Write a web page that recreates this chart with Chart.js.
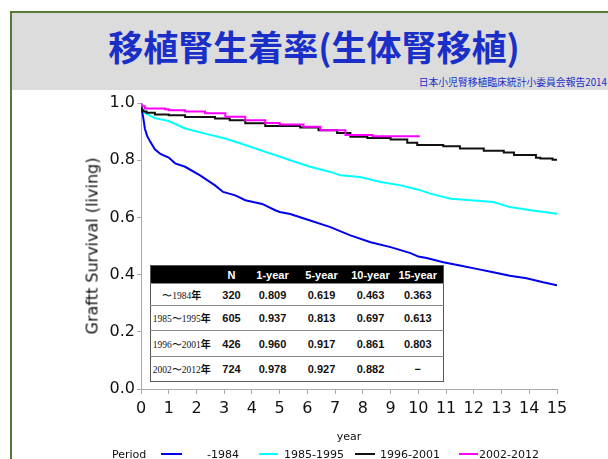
<!DOCTYPE html>
<html><head><meta charset="utf-8">
<script src="https://cdn.jsdelivr.net/npm/chart.js@4.4.1/dist/chart.umd.min.js"></script>
<style>
html,body{margin:0;padding:0;width:608px;height:459px;overflow:hidden;background:#fff;}
#frame{position:absolute;left:10px;top:11px;width:620px;height:470px;border-left:2px solid #587a36;border-top:2px solid #587a36;box-sizing:border-box;}
#head{position:absolute;left:12px;top:13px;width:596px;height:77px;background:#dcdcdc;}
#title{position:absolute;left:4px;width:596px;top:13px;text-align:center;font-family:"Noto Sans CJK JP";font-weight:bold;font-size:35px;line-height:40px;color:#1a2fc8;white-space:nowrap;}
#sub{position:absolute;right:1px;top:63px;font-family:"Noto Sans CJK JP";font-size:9.8px;line-height:12px;color:#1a2fc8;white-space:nowrap;}
#c{position:absolute;left:0;top:0;z-index:1;}
#ytitle{position:absolute;left:92px;top:246px;transform:translate(-50%,-50%) rotate(-90deg);font-family:"DejaVu Sans";font-size:16px;color:#111;white-space:nowrap;z-index:2;}
#xtitle{position:absolute;left:349px;top:436px;transform:translate(-50%,-50%);font-family:"DejaVu Sans";font-size:11px;color:#111;white-space:nowrap;z-index:2;}
.lg{position:absolute;top:448px;font-family:"DejaVu Sans";font-size:11px;line-height:13px;color:#111;white-space:nowrap;z-index:2;}
.ls{position:absolute;top:453px;height:2px;z-index:2;}
#tbl{position:absolute;left:150px;top:265px;width:293px;border-collapse:collapse;background:#fff;z-index:3;border:1px solid #555;table-layout:fixed;}
#tbl td,#tbl th{padding:0;text-align:center;font-family:"Liberation Sans";font-weight:bold;font-size:11px;color:#111;}
#tbl th{background:#000;color:#fff;height:17px;}
#tbl tr.r td{border-top:1px solid #888;}
.yl{font-family:"Liberation Serif" !important;font-weight:normal !important;font-size:9.5px !important;}
.nen{font-family:"Noto Sans CJK JP";font-weight:bold;font-size:10px;}
</style></head><body>
<div id="frame"></div>
<div id="head">
  <div id="title">移植腎生着率(生体腎移植)</div>
  <div id="sub">日本小児腎移植臨床統計小委員会報告2014</div>
</div>
<canvas id="c" width="608" height="459"></canvas>
<div id="ytitle">Graftt Survival (living)</div>
<div id="xtitle">year</div>
<div class="lg" style="left:112px">Period</div>
<div class="ls" style="left:161px;width:21px;background:#0000ee"></div>
<div class="lg" style="left:207px">-1984</div>
<div class="ls" style="left:259px;width:19px;background:#00ffff"></div>
<div class="lg" style="left:284px">1985-1995</div>
<div class="ls" style="left:355px;width:20px;background:#111"></div>
<div class="lg" style="left:380px">1996-2001</div>
<div class="ls" style="left:459px;width:19px;background:#ff00ff"></div>
<div class="lg" style="left:479px">2002-2012</div>

<table id="tbl">
<colgroup><col style="width:62px"><col style="width:38px"><col style="width:44px"><col style="width:54px"><col style="width:44px"><col style="width:51px"></colgroup>
<tbody id="tb"></tbody>
</table>

<script>
// ---- data ----
const periods = ['-1984', '1985-1995', '1996-2001', '2002-2012'];
const tableLabels = ['〜1984', '1985〜1995', '1996〜2001', '2002〜2012'];
const tableHeads = ['', 'N', '1-year', '5-year', '10-year', '15-year'];
const tableN = ['320', '605', '426', '724'];
const table1y = ['0.809', '0.937', '0.960', '0.978'];
const table5y = ['0.619', '0.813', '0.917', '0.927'];
const table10y = ['0.463', '0.697', '0.861', '0.882'];
const table15y = ['0.363', '0.613', '0.803', '−'];

const xTicks = [0,1,2,3,4,5,6,7,8,9,10,11,12,13,14,15];
const yTicks = [0.0,0.2,0.4,0.6,0.8,1.0];

const tA = [0, 0.04, 0.08, 0.14, 0.22, 0.33, 0.5, 0.7, 1.0, 1.23, 1.59, 2.13, 2.67, 2.96, 3.4, 3.76, 4.37, 4.84, 5.0, 5.38, 6.1, 6.83, 7.55, 8.28, 9.0, 9.72, 10.0, 10.3, 10.9, 11.5, 12.1, 12.7, 13.3, 13.9, 14.5, 15.0];
const sA = [1.0, 0.97, 0.95, 0.91, 0.885, 0.865, 0.838, 0.822, 0.809, 0.789, 0.777, 0.747, 0.712, 0.689, 0.677, 0.66, 0.647, 0.625, 0.619, 0.612, 0.589, 0.566, 0.537, 0.513, 0.496, 0.475, 0.463, 0.458, 0.443, 0.432, 0.42, 0.408, 0.396, 0.387, 0.373, 0.363];

const tB = [0, 0.05, 0.14, 0.5, 1.0, 1.59, 2.31, 3.04, 3.76, 4.48, 5.0, 5.38, 6.1, 6.83, 7.19, 7.9, 8.64, 9.36, 10.0, 10.44, 11.17, 11.9, 12.7, 13.3, 14.06, 15.0];
const sB = [1.0, 0.98, 0.965, 0.947, 0.937, 0.911, 0.893, 0.876, 0.853, 0.829, 0.813, 0.80, 0.777, 0.759, 0.747, 0.741, 0.724, 0.712, 0.697, 0.683, 0.665, 0.66, 0.654, 0.636, 0.625, 0.613];

const tC = [0, 0.03, 0.08, 0.2, 0.5, 1.0, 1.59, 2.67, 3.2, 3.76, 4.48, 5.0, 5.74, 6.4, 7.07, 7.55, 8.16, 9.0, 9.6, 9.96, 10.9, 11.5, 12.36, 13.08, 13.45, 14.24, 14.4, 14.84, 15.0];
const sC = [1.0, 0.985, 0.975, 0.97, 0.966, 0.96, 0.957, 0.951, 0.946, 0.94, 0.929, 0.92, 0.92, 0.914, 0.905, 0.895, 0.882, 0.878, 0.872, 0.861, 0.853, 0.849, 0.841, 0.833, 0.827, 0.818, 0.809, 0.806, 0.802];

const tD = [0, 0.03, 0.14, 0.87, 1.0, 1.59, 2.31, 3.04, 3.76, 4.48, 5.0, 5.86, 6.47, 7.37, 8.35, 10.05];
const sD = [1.0, 0.995, 0.989, 0.981, 0.978, 0.975, 0.97, 0.964, 0.952, 0.94, 0.93, 0.925, 0.917, 0.905, 0.888, 0.884];

// ---- table ----
const tb = document.getElementById('tb');
let html = '<tr>' + tableHeads.map(h => '<th>' + h + '</th>').join('') + '</tr>';
const rowH = [22, 25, 26, 25];
for (let i = 0; i < tableLabels.length; i++) {
  html += '<tr class="r" style="height:' + rowH[i] + 'px"><td><span class="yl">' + tableLabels[i] + '</span><span class="nen">年</span></td>' +
    '<td>' + tableN[i] + '</td><td>' + table1y[i] + '</td><td>' + table5y[i] + '</td><td>' + table10y[i] + '</td><td>' + table15y[i] + '</td></tr>';
}
tb.innerHTML = html;

// ---- chart ----
const pts = (t, s) => t.map((x, i) => ({x: x, y: s[i]}));
const colors = ['#0000ee', '#00ffff', '#111111', '#ff00ff'];
const series = [pts(tA, sA), pts(tB, sB), pts(tC, sC), pts(tD, sD)];
const stepped = [false, false, 'after', 'after'];

new Chart(document.getElementById('c'), {
  type: 'line',
  data: {
    datasets: series.map((d, i) => ({
      label: periods[i], data: d, borderColor: colors[i], backgroundColor: colors[i],
      borderWidth: 2, pointRadius: 0, fill: false, tension: 0, stepped: stepped[i], order: 3 - i
    }))
  },
  options: {
    responsive: false, animation: false, devicePixelRatio: 1,
    layout: {padding: {top: 103, right: 51, bottom: 0, left: 0}},
    plugins: {legend: {display: false}, tooltip: {enabled: false}},
    scales: {
      x: {
        type: 'linear', min: 0, max: 15,
        afterBuildTicks: s => { s.ticks = xTicks.map(v => ({value: v})); },
        ticks: {color: '#111', font: {family: 'DejaVu Sans', size: 16}, padding: 5, maxRotation: 0, autoSkip: false},
        grid: {display: true, drawOnChartArea: false, drawTicks: true, tickLength: 5, color: '#aaa'},
        border: {display: true, color: '#aaa', width: 1},
        afterFit: s => { s.height = 70; }
      },
      y: {
        type: 'linear', min: 0, max: 1,
        afterBuildTicks: s => { s.ticks = yTicks.map(v => ({value: v})); },
        ticks: {color: '#111', font: {family: 'DejaVu Sans', size: 16}, padding: 2, callback: v => Number(v).toFixed(1)},
        grid: {display: true, drawOnChartArea: false, drawTicks: true, tickLength: 4, color: '#aaa'},
        border: {display: true, color: '#aaa', width: 1},
        afterFit: s => { s.width = 141; }
      }
    }
  }
});
</script>
</body></html>
